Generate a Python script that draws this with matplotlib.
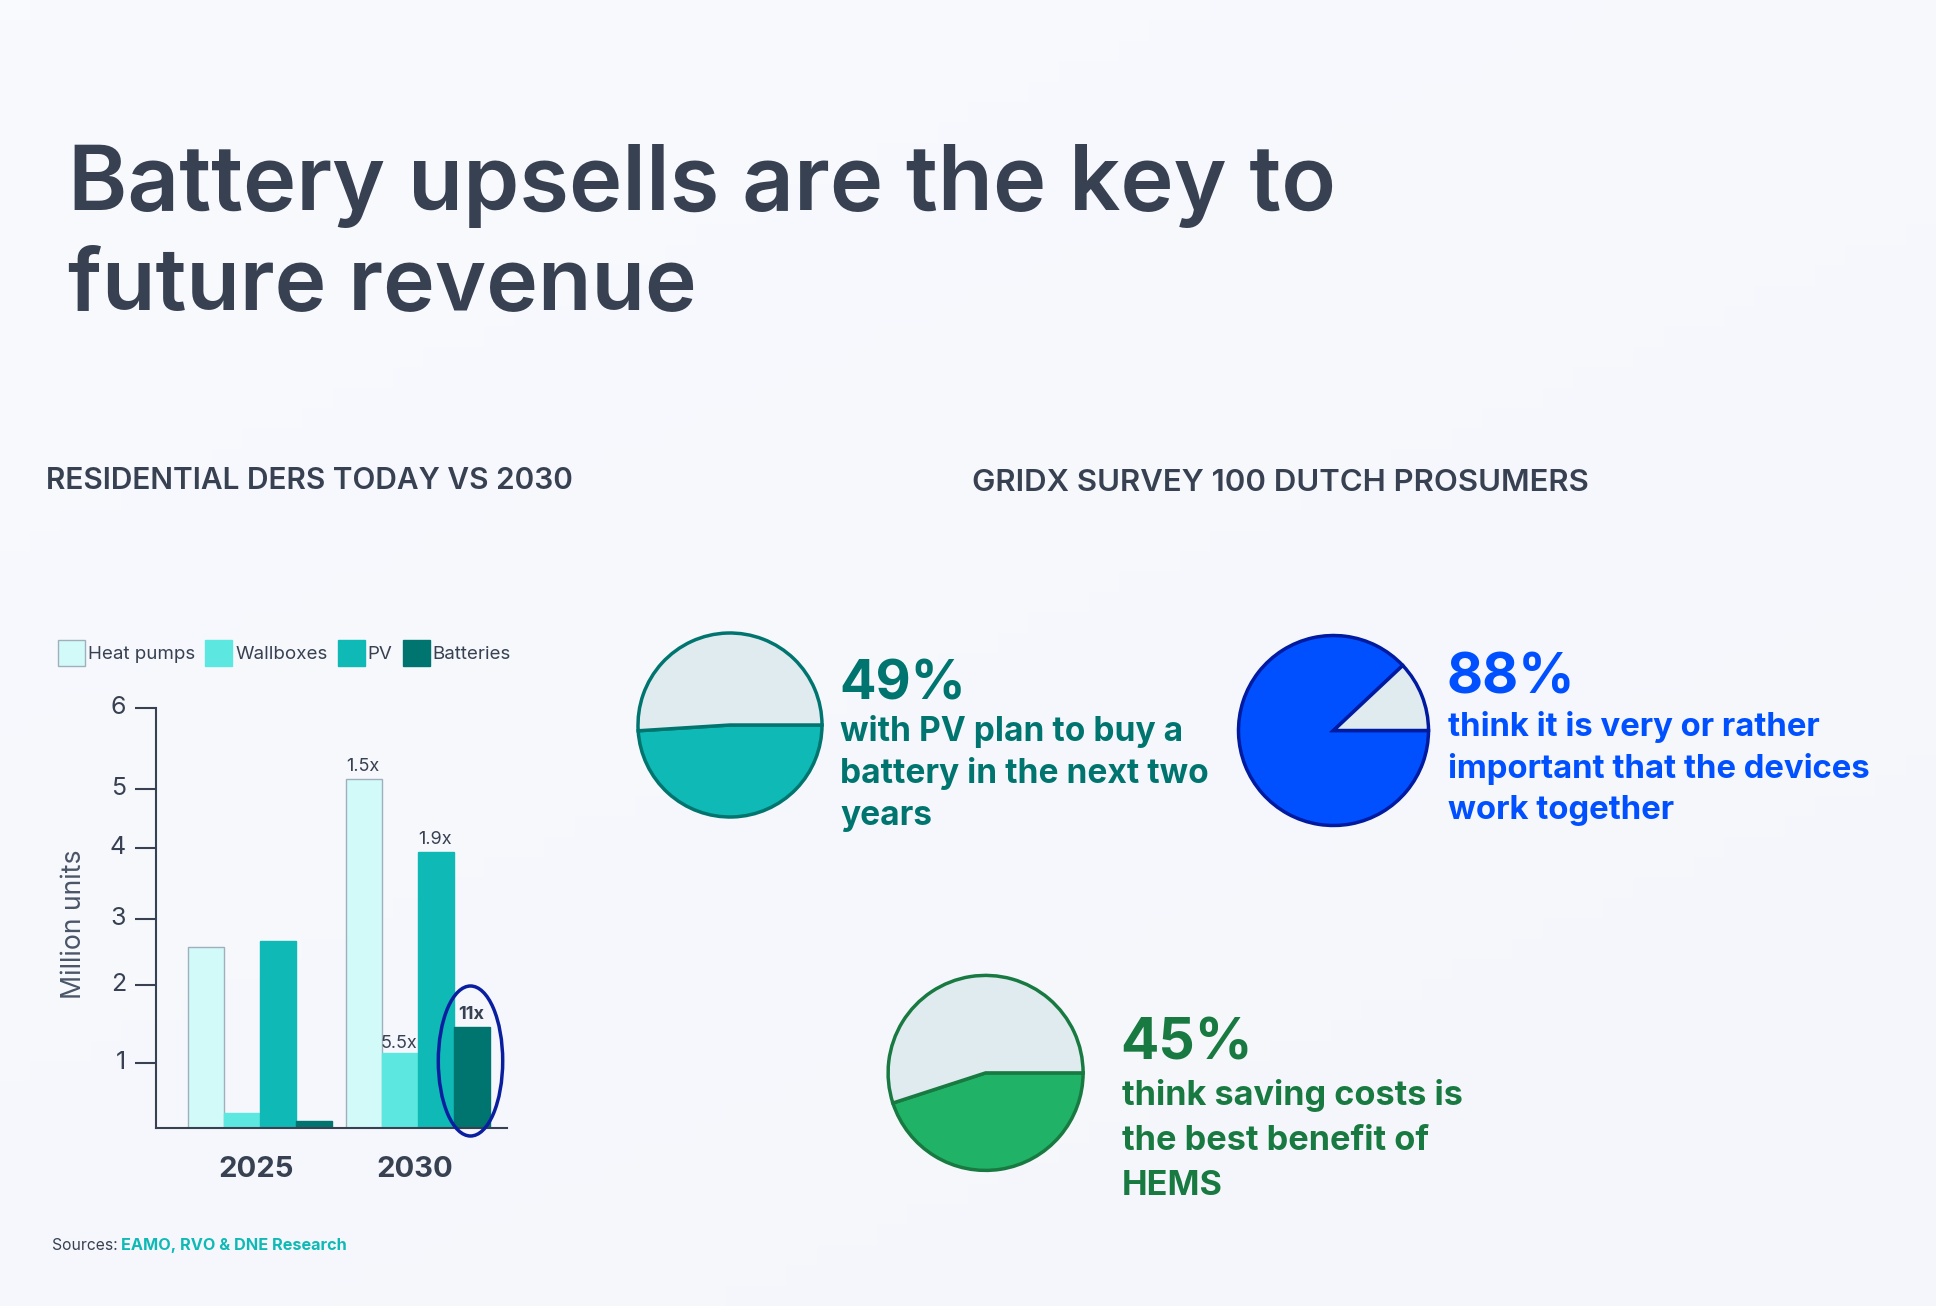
"""Battery upsells slide: DER bar chart plus three survey pies."""

import matplotlib

matplotlib.use("Agg")
import matplotlib.pyplot as plt
import numpy as np
from matplotlib.patches import Ellipse
from matplotlib.transforms import ScaledTranslation

W, H = 1936, 1306

plt.rcParams["font.family"] = ["Inter", "DejaVu Sans"]

# bar chart data, million units
years = ["2025", "2030"]
series_names = ["Heat pumps", "Wallboxes", "PV", "Batteries"]
heat_pumps = [2.58, 5.12]
wallboxes = [0.23, 1.12]
pv = [2.67, 3.94]
batteries = [0.10, 1.46]
growth_labels = ["1.5x", "5.5x", "1.9x", "11x"]
y_ticks = [0, 1, 2, 3, 4, 5, 6]
# the source axis is hand drawn, tick heights in px above the baseline
tick_heights = [0, 65.4, 143, 209, 280.5, 339, 420]

# survey data
pie_shares = [49, 88, 45]
pie_big = ["49%", "88%", "45%"]
pie_lines = [
    ["with PV plan to buy a", "battery in the next two", "years"],
    ["think it is very or rather", "important that the devices", "work together"],
    ["think saving costs is", "the best benefit of", "HEMS"],
]

DARK = "#374151"
REST = "#E0EBF0"
TEAL_D = "#00756F"
TEAL = "#0FB9B5"
TEAL_L = "#5CE8E0"
HP_FILL = "#D2FAF9"


def fwd(v):
    return np.interp(v, y_ticks, tick_heights)


def inv(v):
    return np.interp(v, tick_heights, y_ticks)


def box(x0, y0, x1, y1):
    """Axes rectangle from pixel corners, y measured from the top."""
    return [x0 / W, 1 - y1 / H, (x1 - x0) / W, (y1 - y0) / H]


fig = plt.figure(figsize=(W / 100, H / 100), dpi=100)

# background wash
bg = fig.add_axes([0, 0, 1, 1], zorder=-1)
yy, xx = np.mgrid[0:1:64j, 0:1:64j]
shade = 0.6 * yy + 0.4 * xx
c0, c1 = np.array([249, 250, 254]) / 255, np.array([244, 246, 251]) / 255
bg.imshow(c0 + (c1 - c0) * shade[..., None], aspect="auto")
bg.axis("off")

# bar chart
ax = fig.add_axes(box(156, 708, 506.7, 1128), facecolor="none")
ax.set_yscale("function", functions=(fwd, inv))
ax.set_ylim(0, 6)
ax.set_xlim(-0.656, 1.563)
bar_w = 0.228
x = np.arange(len(years))
values = [heat_pumps, wallboxes, pv, batteries]
fills = [HP_FILL, TEAL_L, TEAL, TEAL_D]
edges = ["#9FB0BC", TEAL_L, TEAL, TEAL_D]
containers = []
for i, (vals, name) in enumerate(zip(values, series_names)):
    c = ax.bar(x + (i - 1.5) * bar_w, vals, bar_w, color=fills[i], edgecolor=edges[i],
               linewidth=1, label=name)
    containers.append(c)

for i, c in enumerate(containers):
    bar = c[1]
    ax.annotate(growth_labels[i], (bar.get_x() + bar.get_width() / 2, bar.get_height()),
                xytext=(-1, 5 if i == 1 else 8), textcoords="offset pixels", ha="center",
                va="baseline", fontsize=13, color=DARK,
                fontweight="bold" if growth_labels[i] == "11x" else "normal")

for side in ("top", "right"):
    ax.spines[side].set_visible(False)
ax.spines["left"].set_linewidth(1.5)
ax.spines["bottom"].set_linewidth(1.5)
ax.spines["left"].set_color(DARK)
ax.spines["bottom"].set_color(DARK)
ax.set_yticks(y_ticks[1:])
ax.minorticks_off()
ax.set_yticklabels([str(t) for t in y_ticks[1:]], fontsize=18, color=DARK)
ax.tick_params(axis="y", length=15, width=1.5, color=DARK, pad=6.5)
nudge = ScaledTranslation(0, 2 / 72, fig.dpi_scale_trans)
for lab in ax.get_yticklabels():
    lab.set_transform(lab.get_transform() + nudge)
ax.set_xticks(x - 0.02)
ax.set_xticklabels(years, fontsize=21, fontweight="bold", color=DARK)
ax.tick_params(axis="x", length=0, pad=20)
ax.set_ylabel("Million units", fontsize=19.2, color="#4A5568")
ax.yaxis.set_label_coords(-0.198, 0.486)

ax.legend(ncols=4, frameon=False, loc="lower left", bbox_to_anchor=(57.7 / W, 1 - 665.5 / H),
          bbox_transform=fig.transFigure, fontsize=13.5, labelcolor=DARK, borderpad=0,
          borderaxespad=0, handlelength=1.45, handleheight=1.7, handletextpad=0.15,
          columnspacing=0.55)

# pies, axes span the radius exactly
pie_boxes = [(730, 725, 92), (1333.5, 730.5, 95), (985.6, 1072.9, 97.5)]
pie_fill = [TEAL, "#0050FF", "#20B368"]
pie_edge = [TEAL_D, "#001AA0", "#187A41"]
for share, (cx, cy, r), fc, ec in zip(pie_shares, pie_boxes, pie_fill, pie_edge):
    pax = fig.add_axes(box(cx - r, cy - r, cx + r, cy + r), facecolor="none")
    wedges, _ = pax.pie([share, 100 - share], colors=[fc, REST], startangle=0, counterclock=False,
                        wedgeprops={"edgecolor": ec, "linewidth": 2.5, "clip_on": False}, radius=1)
    pax.set_xlim(-1, 1)
    pax.set_ylim(-1, 1)

# pixel overlay for all loose text
ov = fig.add_axes([0, 0, 1, 1], facecolor="none", zorder=5)
ov.set_xlim(0, W)
ov.set_ylim(H, 0)
ov.axis("off")

ov.add_patch(Ellipse((470.5, 1061), 64.4, 150, fill=False, edgecolor="#0A1FA0", linewidth=2.5))

ov.text(68, 210, "Battery upsells are the key to", fontsize=64.9, fontweight="semibold", color=DARK, va="baseline")
ov.text(68, 308.7, "future revenue", fontsize=63, fontweight="semibold", color=DARK, va="baseline")
ov.text(45.7, 489, "RESIDENTIAL DERS TODAY VS 2030", fontsize=21.5, fontweight="semibold", color=DARK, va="baseline")
ov.text(972, 491, "GRIDX SURVEY 100 DUTCH PROSUMERS", fontsize=22.4, fontweight="semibold", color=DARK, va="baseline")

ov.text(51.7, 1249.6, "Sources:", fontsize=11.3, color=DARK, va="baseline")
ov.text(121.2, 1249.6, "EAMO, RVO & DNE Research", fontsize=11.7, fontweight="bold", color=TEAL, va="baseline")

stat_x = [839, 1446.5, 1120.5]
stat_big_y = [700, 693, 1059.3]
stat_line_y = [(741, 782.7, 824.5), (736, 777.7, 819.5), (1105, 1150, 1195)]
stat_big_fs = [39, 40, 41]
stat_line_fs = [24.15, 23.7, 24.7]
stat_color = [TEAL_D, "#0050FF", "#187A41"]
for i in range(3):
    ov.text(stat_x[i], stat_big_y[i], pie_big[i], fontsize=stat_big_fs[i], fontweight="bold",
            color=stat_color[i], va="baseline")
    for line, ly in zip(pie_lines[i], stat_line_y[i]):
        ov.text(stat_x[i] + 1, ly, line, fontsize=stat_line_fs[i], fontweight="bold",
                color=stat_color[i], va="baseline")

fig.savefig("out.png", dpi=100)
